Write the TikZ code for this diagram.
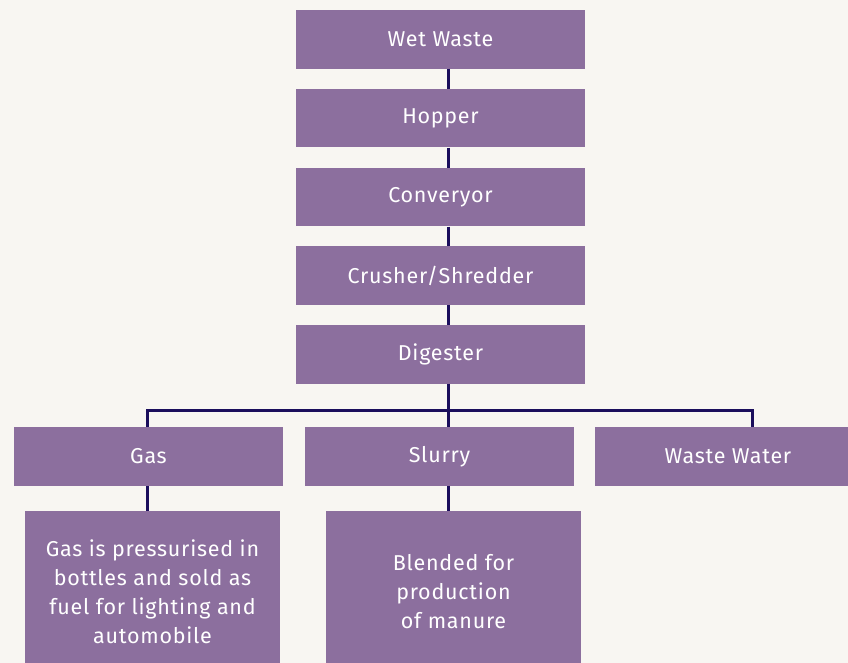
\documentclass[tikz,border=0pt]{standalone}
\usepackage{fontspec}
\setmainfont[LetterSpace=3.5]{Fira Sans}
\definecolor{boxc}{HTML}{8C6F9E}
\definecolor{linec}{HTML}{1B0E5C}
\definecolor{bgc}{HTML}{F8F6F2}
\begin{document}
\begin{tikzpicture}[x=1pt,y=-1pt,
  box/.style={fill=boxc,text=white,inner sep=0pt,font=\fontsize{21.5}{29}\selectfont,align=center},
  conn/.style={draw=linec,line width=3pt}]
\fill[bgc] (0,0) rectangle (848,663);
\useasboundingbox (0,0) rectangle (848,663);
\node[box,minimum width=289,minimum height=58.5] (ww) at (440.5,39.3) {Wet Waste};
\node[box,minimum width=289,minimum height=58.5] (hop) at (440.5,118.2) {Hopper};
\node[box,minimum width=289,minimum height=58.5] (conv) at (440.5,197.1) {Converyor};
\node[box,minimum width=289,minimum height=58.5] (crush) at (440.5,275.7) {Crusher/Shredder};
\node[box,minimum width=289,minimum height=58.5] (dig) at (440.5,354.5) {Digester};
\node[box,minimum width=269,minimum height=59] (gas) at (148.5,456.5) {Gas};
\node[box,minimum width=269,minimum height=59] (slurry) at (439.5,456.5) {Slurry};
\node[box,minimum width=266,minimum height=59] (wwat) at (728,456.5) {Waste Water};
\node[box,minimum width=255,minimum height=161] (gasd) at (152.5,591.5) {Gas is pressurised in\\bottles and sold as\\fuel for lighting and\\automobile};
\node[box,minimum width=255,minimum height=161] (blend) at (453.5,591.5) {Blended for\\production\\of manure};
\coordinate (j) at (448,410.7);
\coordinate (gl) at (147.5,410.7);
\coordinate (wl) at (752,410.7);
\draw[conn] (j |- ww.south) -- (j |- hop.north);
\draw[conn] (j |- hop.south) -- (j |- conv.north);
\draw[conn] (j |- conv.south) -- (j |- crush.north);
\draw[conn] (j |- crush.south) -- (j |- dig.north);
\draw[conn] (j |- dig.south) -- (j |- slurry.north);
\draw[conn] (gl |- gas.north) -- (gl) -- (wl) -- (wl |- wwat.north);
\draw[conn] (gl |- gas.south) -- (gl |- gasd.north);
\draw[conn] (j |- slurry.south) -- (j |- blend.north);
\end{tikzpicture}
\end{document}
